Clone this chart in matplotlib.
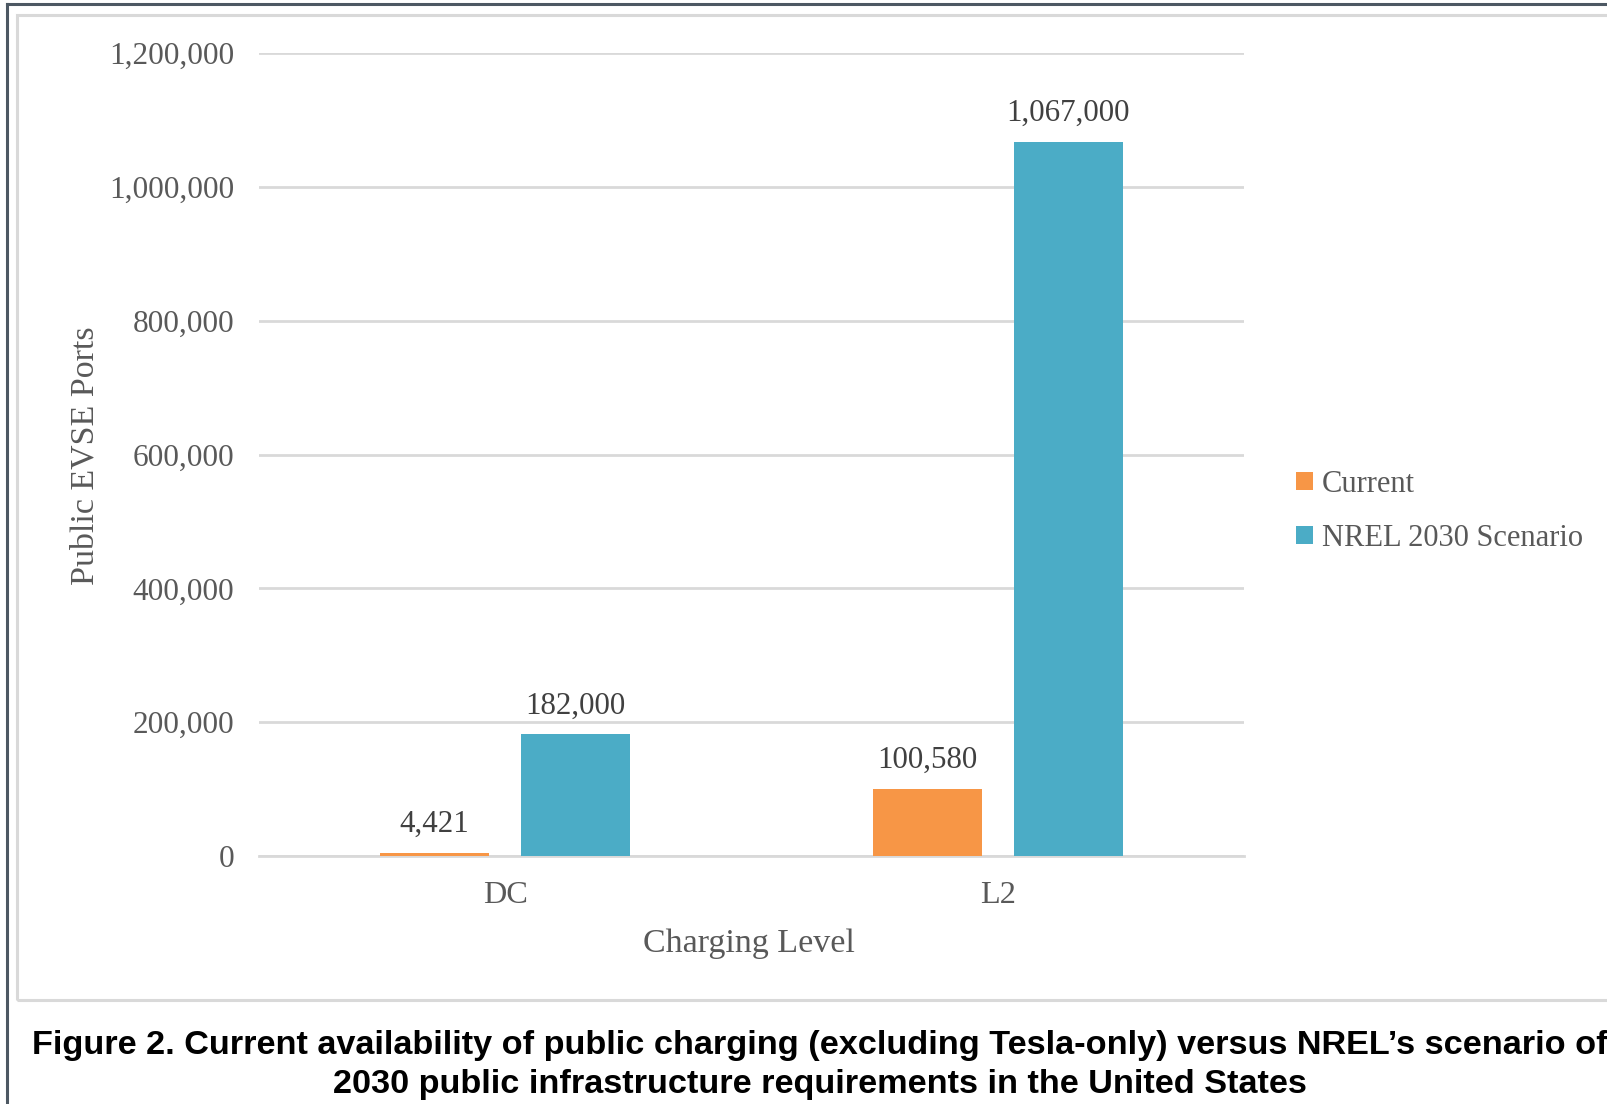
import matplotlib.pyplot as plt
import numpy as np
from matplotlib.patches import Rectangle
from matplotlib.lines import Line2D

# charging levels and port counts
levels = ['DC', 'L2']
current = [4421, 100580]
nrel_2030 = [182000, 1067000]
series_names = ['Current', 'NREL 2030 Scenario']
colors = ['#F79646', '#4BACC6']

caption = ("Figure 2. Current availability of public charging (excluding Tesla-only) versus NREL\u2019s scenario of\n"
           "2030 public infrastructure requirements in the United States")

label_color = '#595959'
serif = ['Liberation Serif', 'DejaVu Serif']

fig = plt.figure(figsize=(16.08, 11.04), dpi=100)

# page edge and chart frame
fig.add_artist(Line2D([0.0045, 0.0045], [0, 0.9964], color='#4d5863', lw=2.2, transform=fig.transFigure))
fig.add_artist(Line2D([0.0045, 1.0], [0.9964, 0.9964], color='#4d5863', lw=2.2, transform=fig.transFigure))
fig.add_artist(Rectangle((0.0108, 0.0945), 1.2, 0.8915, transform=fig.transFigure,
                         fill=False, edgecolor='#d9d9d9', lw=2.2))

ax = fig.add_axes([0.161, 0.2246, 0.6126, 0.7274])

x = np.arange(len(levels))
width = 0.221
offset = 0.143
b1 = ax.bar(x - offset, current, width, color=colors[0], label=series_names[0], zorder=3)
b2 = ax.bar(x + offset, nrel_2030, width, color=colors[1], label=series_names[1], zorder=3)

for bars, vals in [(b1, current), (b2, nrel_2030)]:
    for rect, v in zip(bars, vals):
        ax.annotate(f'{v:,}', (rect.get_x() + rect.get_width() / 2, v),
                    xytext=(0, 10), textcoords='offset points', ha='center', va='bottom',
                    fontsize=22.3, color='#404040', family=serif)

ax.set_xlim(-0.5, 1.5)
ax.set_ylim(0, 1200000)
ax.set_yticks(np.arange(0, 1200001, 200000))
ax.set_yticklabels([f'{int(t):,}' for t in ax.get_yticks()])
ax.set_xticks(x)
ax.set_xticklabels(levels)
ax.yaxis.grid(True, color='#d9d9d9', lw=2)
ax.set_axisbelow(True)
for s in ['top', 'right', 'left']:
    ax.spines[s].set_visible(False)
ax.spines['bottom'].set_color('#d9d9d9')
ax.spines['bottom'].set_linewidth(2)
ax.tick_params(axis='y', length=0, labelsize=22.5, labelcolor=label_color, pad=18)
ax.tick_params(axis='x', length=0, labelsize=23.3, labelcolor=label_color, pad=18)
for lab in ax.get_xticklabels() + ax.get_yticklabels():
    lab.set_family(serif)

ax.set_ylabel('Public EVSE Ports', fontsize=24.5, color=label_color, family=serif)
ax.yaxis.set_label_coords(-0.161, 0.498)
ax.set_xlabel('Charging Level', fontsize=24.5, color=label_color, family=serif)
ax.xaxis.set_label_coords(0.4975, -0.09)

leg = ax.legend(loc='center left', bbox_to_anchor=(1.025, 0.429), frameon=False,
                prop={'family': serif, 'size': 22}, handlelength=0.55, handleheight=0.55,
                handletextpad=0.3, labelspacing=0.82, labelcolor=label_color)

fig.text(0.51, 0.035, caption, ha='center', va='center', fontsize=24.7, fontweight='bold',
         family=['Liberation Sans', 'DejaVu Sans'], linespacing=1.34, color='black')

fig.savefig('out.png', dpi=100)
